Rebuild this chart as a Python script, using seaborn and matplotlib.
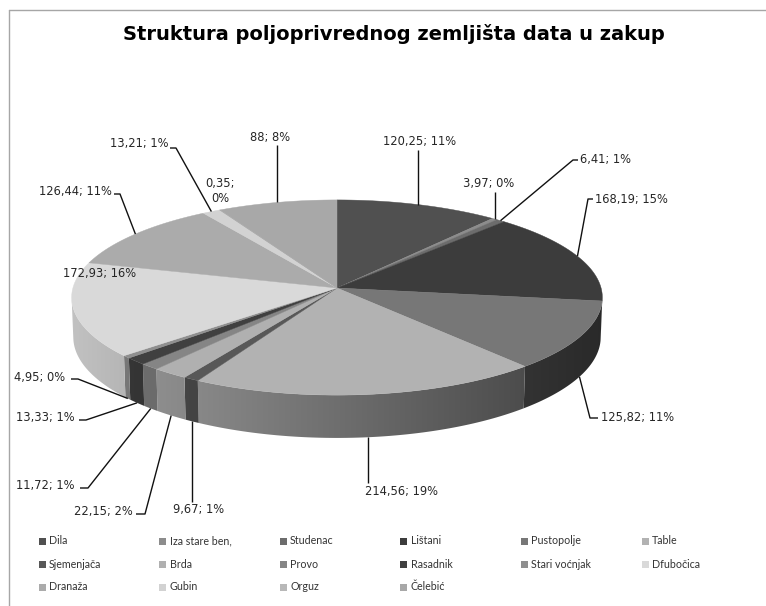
import numpy as np
import matplotlib
matplotlib.use("Agg")
import matplotlib.pyplot as plt
import seaborn as sns
from matplotlib.patches import Rectangle, Polygon
from matplotlib.colors import to_rgb

# ---------------- data ----------------
categories = ["Dila", "Iza stare ben,", "Studenac", "Lištani", "Pustopolje", "Table",
              "Sjemenjača", "Brda", "Provo", "Rasadnik", "Stari voćnjak", "Dfubočica",
              "Dranaža", "Gubin", "Orguz", "Čelebić"]
values = [120.25, 3.97, 6.41, 168.19, 125.82, 214.56, 9.67, 22.15, 11.72, 13.33,
          4.95, 172.93, 126.44, 13.21, 0.35, 88]
colors = ["#505050", "#8c8c8c", "#6c6c6c", "#3c3c3c", "#777777", "#b2b2b2",
          "#585858", "#b0b0b0", "#858585", "#404040", "#8f8f8f", "#d9d9d9",
          "#ababab", "#d2d2d2", "#b8b8b8", "#a8a8a8"]
title = "Struktura poljoprivrednog zemljišta data u zakup"

# ---------------- style ----------------
sns.set_theme(style="white")
plt.rcParams['font.family'] = ['DejaVu Sans']

W, H = 766, 606
fig = plt.figure(figsize=(W / 100, H / 100), dpi=100)
ax = fig.add_axes([0, 0, 1, 1])
ax.axis('off')

# perspective projection of a tilted 3D pie (pixel space)
S, C = 0.366, 0.931
D0, F, HT = 9.55, 2522.0, 0.161
CX, CY = 337.0, 288.0


def proj(x, y, z):
    yp = y * C + z * S
    d = D0 + z * C - y * S
    return CX + F * x / d, CY - F * yp / d


def shade(px):
    s = np.clip((px - CX) / 264.0, -1, 1)
    return 0.62 - 0.27 * s


total = float(sum(values))
bounds = np.concatenate([[0.0], np.cumsum(values)]) / total * 360.0
zvis = -1.0 / (D0 * C)
vis_lo = np.degrees(np.arccos(zvis))
vis_hi = 360.0 - vis_lo

# side walls with horizontal light gradient
for i, (a0, a1) in enumerate(zip(bounds[:-1], bounds[1:])):
    lo, hi = max(a0, vis_lo), min(a1, vis_hi)
    if hi <= lo:
        continue
    th = np.radians(np.linspace(lo, hi, max(3, int(np.ceil((hi - lo) / 0.5)) + 1)))
    top = [proj(np.sin(t), 0, np.cos(t)) for t in th]
    bot = [proj(np.sin(t), -HT, np.cos(t)) for t in th[::-1]]
    pts = np.array(top + bot)
    xmin, xmax = pts[:, 0].min() - 1, pts[:, 0].max() + 1
    ymin, ymax = pts[:, 1].min() - 1, pts[:, 1].max() + 1
    xs = np.linspace(xmin, xmax, max(2, int(xmax - xmin) + 1))
    base = np.array(to_rgb(colors[i]))
    img = np.clip(base[None, None, :] * shade(xs)[None, :, None], 0, 1)
    img = np.repeat(img, 2, axis=0)
    im = ax.imshow(img, extent=[xmin, xmax, ymax, ymin], origin='upper',
                   interpolation='bilinear', zorder=1)
    patch = Polygon(pts, closed=True, facecolor='none', edgecolor='none')
    ax.add_patch(patch)
    im.set_clip_path(patch)

# top faces
for i, (a0, a1) in enumerate(zip(bounds[:-1], bounds[1:])):
    th = np.radians(np.linspace(a0, a1, max(2, int(np.ceil((a1 - a0) / 0.5)) + 1)))
    pts = [proj(0, 0, 0)] + [proj(np.sin(t), 0, np.cos(t)) for t in th]
    xs_, ys_ = zip(*pts)
    ax.fill(xs_, ys_, color=colors[i], ec=colors[i], lw=0.3, zorder=2)


def anchor(i):
    m = np.radians((bounds[i] + bounds[i + 1]) / 2)
    x, z = np.sin(m), np.cos(m)
    if z < zvis:
        return proj(x, -HT, z)
    return proj(x, 0, z)


# data labels (layout positions in pixels)
label_xy = [(420, 142), (489, 183), (580, 160), (595, 199), (601, 418), (365, 491),
            (199, 509), (133, 512), (75, 486), (75, 417), (65, 377), (100, 273),
            (112, 191), (168, 144), (220, 191), (270, 137)]
label_ha = ['center', 'center', 'left', 'left', 'left', 'left', 'center', 'right',
            'right', 'right', 'right', 'center', 'right', 'right', 'center', 'center']
leaders = [[(None, 150)], [(None, 192)], [(573, 160), (578, 160)], [(588, 199), (593, 199)],
           [(590, 418), (598, 418)], [(None, 483)], [(None, 502)], [(145, 514), (136, 514)],
           [(88, 488), (80, 488)], [(86, 420), (79, 420)], [(78, 379), (71, 379)], [],
           [(120, 194), (114, 194)], [(176, 148), (170, 148)], [], [(None, 145)]]

for i, v in enumerate(values):
    pct = int(round(v / total * 100))
    vs = f"{v:g}".replace('.', ',')
    txt = f"{vs}; {pct}%" if i != 14 else f"{vs};\n{pct}%"
    tx, ty = label_xy[i]
    ax.text(tx, ty, txt, ha=label_ha[i], va='center', fontsize=8.3,
            color='#262626', linespacing=1.2, zorder=4)
    if leaders[i]:
        axp, ayp = anchor(i)
        px, py = [axp], [ayp]
        for (lx, ly) in leaders[i]:
            px.append(axp if lx is None else lx)
            py.append(ly)
        ax.plot(px, py, color='#111111', lw=1.0, solid_capstyle='butt', zorder=3)

# title
ax.text(394, 34, title, ha='center', va='center', fontsize=14, fontweight='bold',
        family=['DejaVu Sans'], color='#000000')

# legend (grid of 6 columns)
for k, cat in enumerate(categories):
    col, row = k % 6, k // 6
    mx = 42 + 120.6 * col
    my = 541 + 23 * row
    ax.add_patch(Rectangle((mx - 3.5, my - 3.5), 7, 7, color=colors[k], lw=0))
    ax.text(mx + 7, my, cat, ha='left', va='center', fontsize=7.7,
            family=['Lato', 'DejaVu Sans'], color='#333333')

# chart border
ax.plot([9, 9], [10, H], color='#a6a6a6', lw=1.0)
ax.plot([9, W], [10, 10], color='#a6a6a6', lw=1.0)

ax.set_aspect('auto')
ax.set_xlim(0, W)
ax.set_ylim(H, 0)
fig.savefig("out.png", dpi=100)
